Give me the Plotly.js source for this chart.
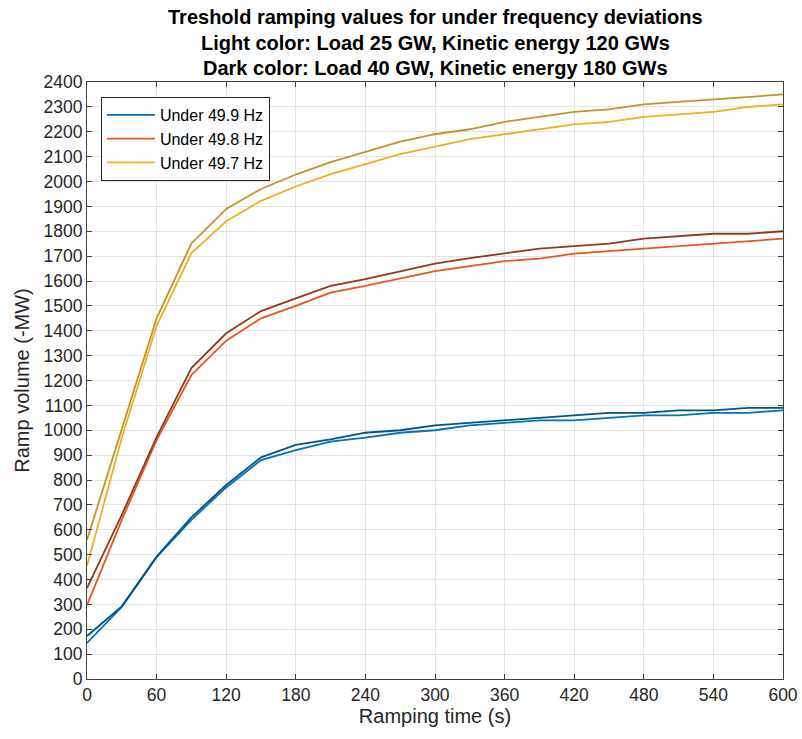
<!DOCTYPE html>
<html>
<head>
<meta charset="utf-8">
<script src="https://cdn.plot.ly/plotly-3.0.1.min.js"></script>
<style>html,body{margin:0;padding:0;background:#fff;}#chart{width:802px;height:739px;}</style>
</head>
<body>
<div id="chart"></div>
<script>
const time = [0,30,60,90,120,150,180,210,240,270,300,330,360,390,420,450,480,510,540,570,600];

// Light color: Load 25 GW, Kinetic energy 120 GWs
const light499 = [145,290,490,640,770,880,920,954,970,990,1000,1020,1030,1040,1040,1050,1060,1060,1070,1070,1080];
const light498 = [297,640,960,1222,1360,1450,1500,1553,1580,1610,1640,1660,1680,1690,1710,1720,1730,1740,1750,1760,1770];
const light497 = [455,970,1420,1712,1840,1922,1980,2030,2070,2110,2140,2170,2190,2210,2230,2240,2260,2270,2280,2300,2310];

// Dark color: Load 40 GW, Kinetic energy 180 GWs
const dark499 = [173,292,492,650,780,891,941,963,990,1000,1020,1030,1040,1050,1060,1070,1070,1080,1080,1090,1090];
const dark498 = [365,660,972,1250,1390,1479,1530,1580,1608,1640,1670,1692,1711,1730,1740,1750,1770,1780,1790,1790,1800];
const dark497 = [559,1000,1450,1751,1890,1970,2028,2078,2120,2160,2190,2210,2240,2260,2280,2290,2310,2320,2330,2340,2350];

const legendNames = ['Under 49.9 Hz','Under 49.8 Hz','Under 49.7 Hz'];
const lightColors = ['#0072BD','#E8561C','#EDB120'];
const darkColors = ['#005488','#8E3A1C','#C39229'];

const xTicks = [0,60,120,180,240,300,360,420,480,540,600];
const yTicks = [];
for (let v = 0; v <= 2400; v += 100) yTicks.push(v);

const titleLines = [
  'Treshold ramping values for under frequency deviations',
  'Light color: Load 25 GW, Kinetic energy 120 GWs',
  'Dark color: Load 40 GW, Kinetic energy 180 GWs'
];

const lights = [light499, light498, light497];
const darks = [dark499, dark498, dark497];
const traces = [];
for (let i = 0; i < 3; i++) {
  traces.push({x: time, y: lights[i], type: 'scatter', mode: 'lines', name: legendNames[i],
    line: {color: lightColors[i], width: 1.8}, showlegend: true});
}
for (let i = 0; i < 3; i++) {
  traces.push({x: time, y: darks[i], type: 'scatter', mode: 'lines', name: legendNames[i] + ' (dark)',
    line: {color: darkColors[i], width: 1.8}, showlegend: false});
}

const font = 'Liberation Sans, Arial, sans-serif';
const annotations = titleLines.map((t, k) => ({
  text: '<b>' + t + '</b>', xref: 'paper', yref: 'paper', x: 0.5, y: 1,
  xanchor: 'center', yanchor: 'middle', yshift: 65 - 25.5 * k, showarrow: false,
  font: {family: font, size: 20, color: '#000'}
}));

const axisCommon = {
  showline: true, linecolor: '#404040', linewidth: 1, mirror: 'ticks',
  ticks: 'inside', ticklen: 5, tickcolor: '#404040',
  showgrid: true, gridcolor: '#e3e3e3', gridwidth: 1, zeroline: false,
  tickfont: {family: font, size: 17.5, color: '#262626'}
};

const layout = {
  width: 802, height: 739,
  margin: {l: 87, r: 19, t: 82, b: 60},
  paper_bgcolor: '#fff', plot_bgcolor: '#fff',
  showlegend: true,
  legend: {x: 0.02, y: 0.975, xanchor: 'left', yanchor: 'top', bgcolor: '#fff',
    bordercolor: '#262626', borderwidth: 1, font: {family: font, size: 16, color: '#000'},
    tracegroupgap: 0, itemwidth: 48},
  xaxis: Object.assign({}, axisCommon, {range: [0, 600], tickvals: xTicks, ticktext: xTicks.map(String),
    title: {text: 'Ramping time (s)', font: {family: font, size: 20, color: '#262626'}, standoff: 3}}),
  yaxis: Object.assign({}, axisCommon, {range: [0, 2400], tickvals: yTicks, ticktext: yTicks.map(String),
    title: {text: 'Ramp volume (-MW)', font: {family: font, size: 20, color: '#262626'}, standoff: 8}}),
  annotations: annotations
};

Plotly.newPlot('chart', traces, layout, {displayModeBar: false, staticPlot: true});
</script>
</body>
</html>
